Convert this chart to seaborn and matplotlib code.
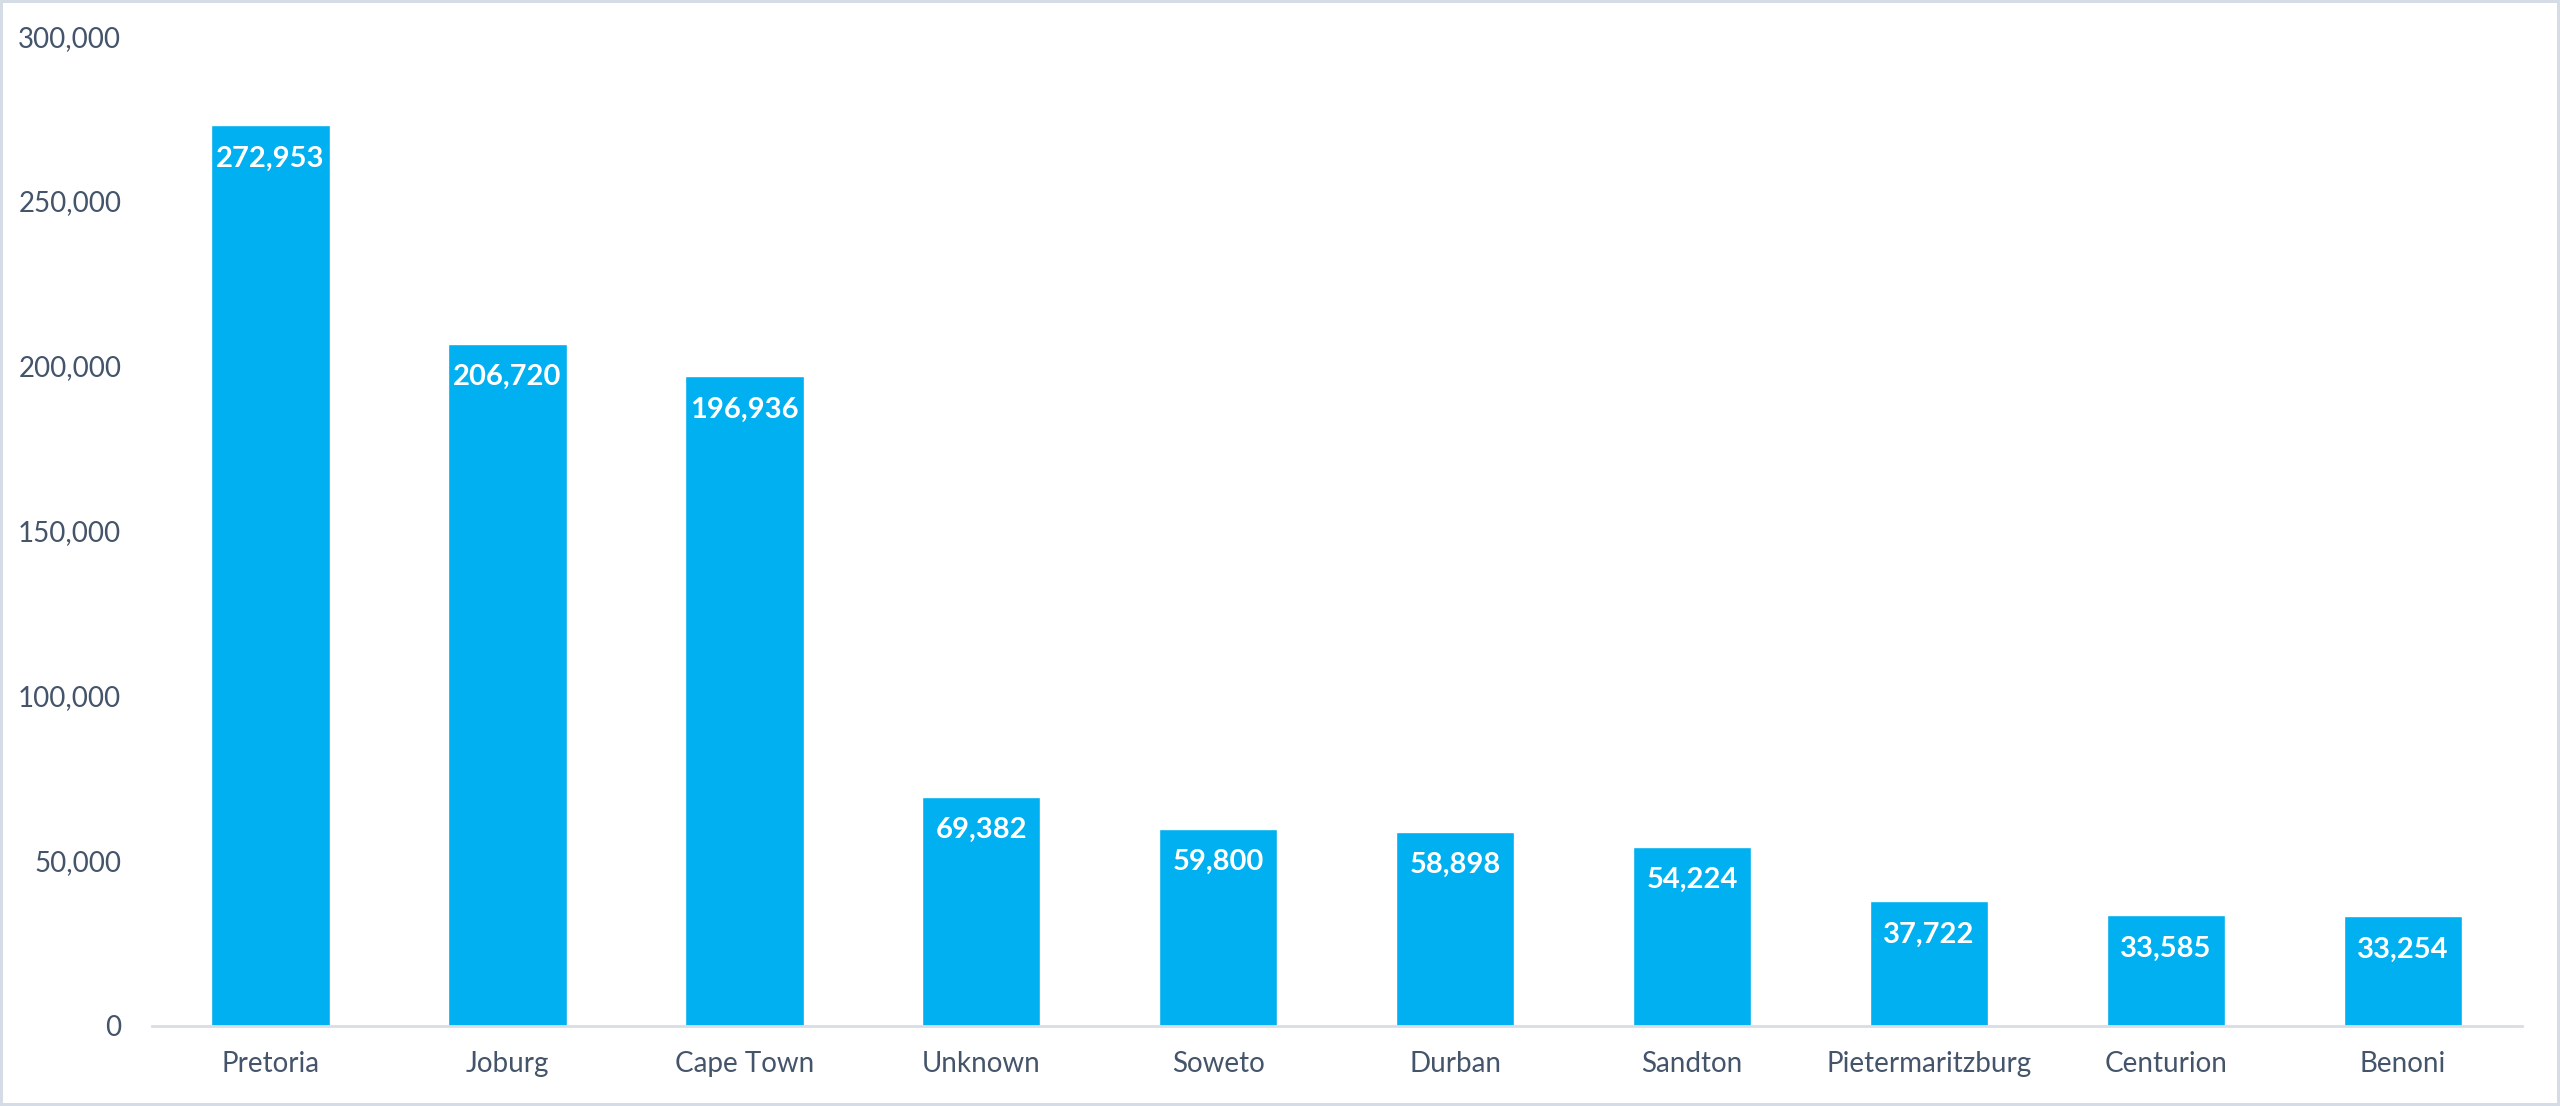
import matplotlib
matplotlib.use("Agg")
import matplotlib.pyplot as plt
import seaborn as sns
from matplotlib.ticker import FuncFormatter

cities = ["Pretoria", "Joburg", "Cape Town", "Unknown", "Soweto", "Durban",
          "Sandton", "Pietermaritzburg", "Centurion", "Benoni"]
counts = [272953, 206720, 196936, 69382, 59800, 58898, 54224, 37722, 33585, 33254]
y_ticks = [0, 50000, 100000, 150000, 200000, 250000, 300000]

text_color = "#44546a"
bar_color = "#00b0f0"

sns.set_theme(style="white")
plt.rcParams["font.family"] = ["Lato", "DejaVu Sans"]

fig = plt.figure(figsize=(25.6, 11.06), dpi=100, edgecolor="#d6dce5", linewidth=4)
ax = fig.add_axes([0.0593, 0.0724, 0.9257, 0.895])

sns.barplot(x=cities, y=counts, color=bar_color, saturation=1, width=0.5, ax=ax)

ax.set_ylim(0, 300000)
ax.set_xlim(-0.5, len(cities) - 0.5)
ax.set_yticks(y_ticks)
ax.yaxis.set_major_formatter(FuncFormatter(lambda v, p: f"{int(v):,}"))
ax.tick_params(axis="y", length=0, pad=22, labelsize=20, labelcolor=text_color)
ax.tick_params(axis="x", length=0, pad=18, labelsize=20, labelcolor=text_color)

for side in ["top", "right", "left"]:
    ax.spines[side].set_visible(False)
ax.spines["bottom"].set_color("#d9dde3")
ax.spines["bottom"].set_linewidth(2)
ax.grid(False)

# value labels inside bar tops
for i, v in enumerate(counts):
    ax.annotate(f"{v:,}", xy=(i, v), xytext=(0, -24), textcoords="offset points",
                ha="center", va="center", color="white", fontsize=21, fontweight="bold")

fig.savefig("out.png", dpi=100, edgecolor=fig.get_edgecolor(), facecolor="white")
